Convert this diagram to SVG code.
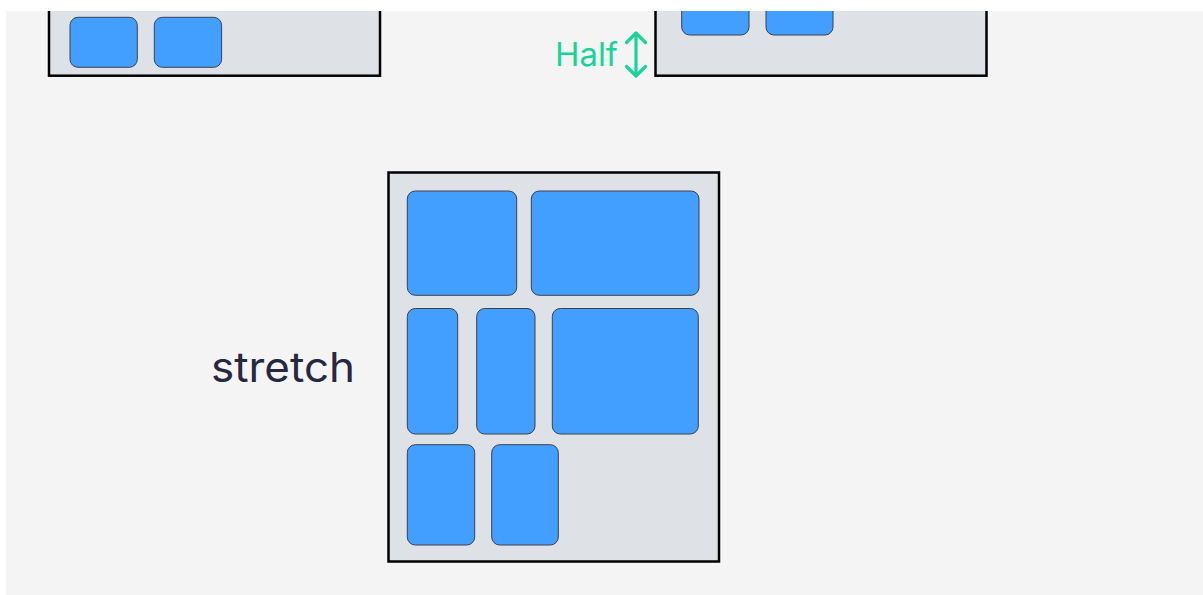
<svg xmlns="http://www.w3.org/2000/svg" width="1203" height="595" viewBox="0 0 1203 595">
<style>
.box{fill:#dee1e6;stroke:#000;stroke-width:2.5}
.item{fill:#429eff;stroke:#3a4150;stroke-width:1}
.lbl{font-family:Inter,"Noto Sans",sans-serif}
</style>
<rect x="0" y="0" width="1203" height="595" fill="#ffffff"/>
<rect x="6" y="11" width="1197" height="584" fill="#f4f4f4"/>
<g id="container-top-left">
<rect class="box" x="49" y="-40" width="331" height="115.7"/>
<rect class="item" x="70" y="17.3" width="67.3" height="50" rx="8"/>
<rect class="item" x="154.3" y="17.3" width="67.3" height="50" rx="8"/>
</g>
<g id="container-top-right">
<rect class="box" x="655.5" y="-40" width="331" height="115.7"/>
<rect class="item" x="681.7" y="-50" width="67.3" height="85" rx="8"/>
<rect class="item" x="766" y="-50" width="67" height="85" rx="8"/>
</g>
<rect x="0" y="0" width="1203" height="11" fill="#ffffff"/>
<g id="half-label">
<text class="lbl" x="555" y="66" font-size="32" fill="#19d39a" textLength="63" lengthAdjust="spacingAndGlyphs">Half</text>
</g>
<g id="connectors" fill="none" stroke="#19d39a" stroke-width="3.2" stroke-linecap="round" stroke-linejoin="round">
<line x1="636" y1="34" x2="636" y2="75"/>
<polyline points="626.5,42.5 636,33 645.5,42.5"/>
<polyline points="626.5,66.5 636,76 645.5,66.5"/>
</g>
<g id="label-stretch">
<text class="lbl" x="211" y="382" font-size="41" fill="#262840" textLength="144" lengthAdjust="spacingAndGlyphs">stretch</text>
</g>
<g id="container-stretch">
<rect class="box" x="388.5" y="172.5" width="330.5" height="389"/>
<rect class="item" x="407.3" y="191" width="109.4" height="104.3" rx="8"/>
<rect class="item" x="531.3" y="191" width="167.7" height="104.3" rx="8"/>
<rect class="item" x="407.3" y="308.5" width="50.4" height="125.5" rx="8"/>
<rect class="item" x="476.7" y="308.5" width="58.3" height="125.5" rx="8"/>
<rect class="item" x="552.3" y="308.5" width="146" height="125.5" rx="8"/>
<rect class="item" x="407.3" y="444.7" width="67.4" height="100.3" rx="8"/>
<rect class="item" x="491.7" y="444.7" width="66.6" height="100.3" rx="8"/>
</g>
</svg>
